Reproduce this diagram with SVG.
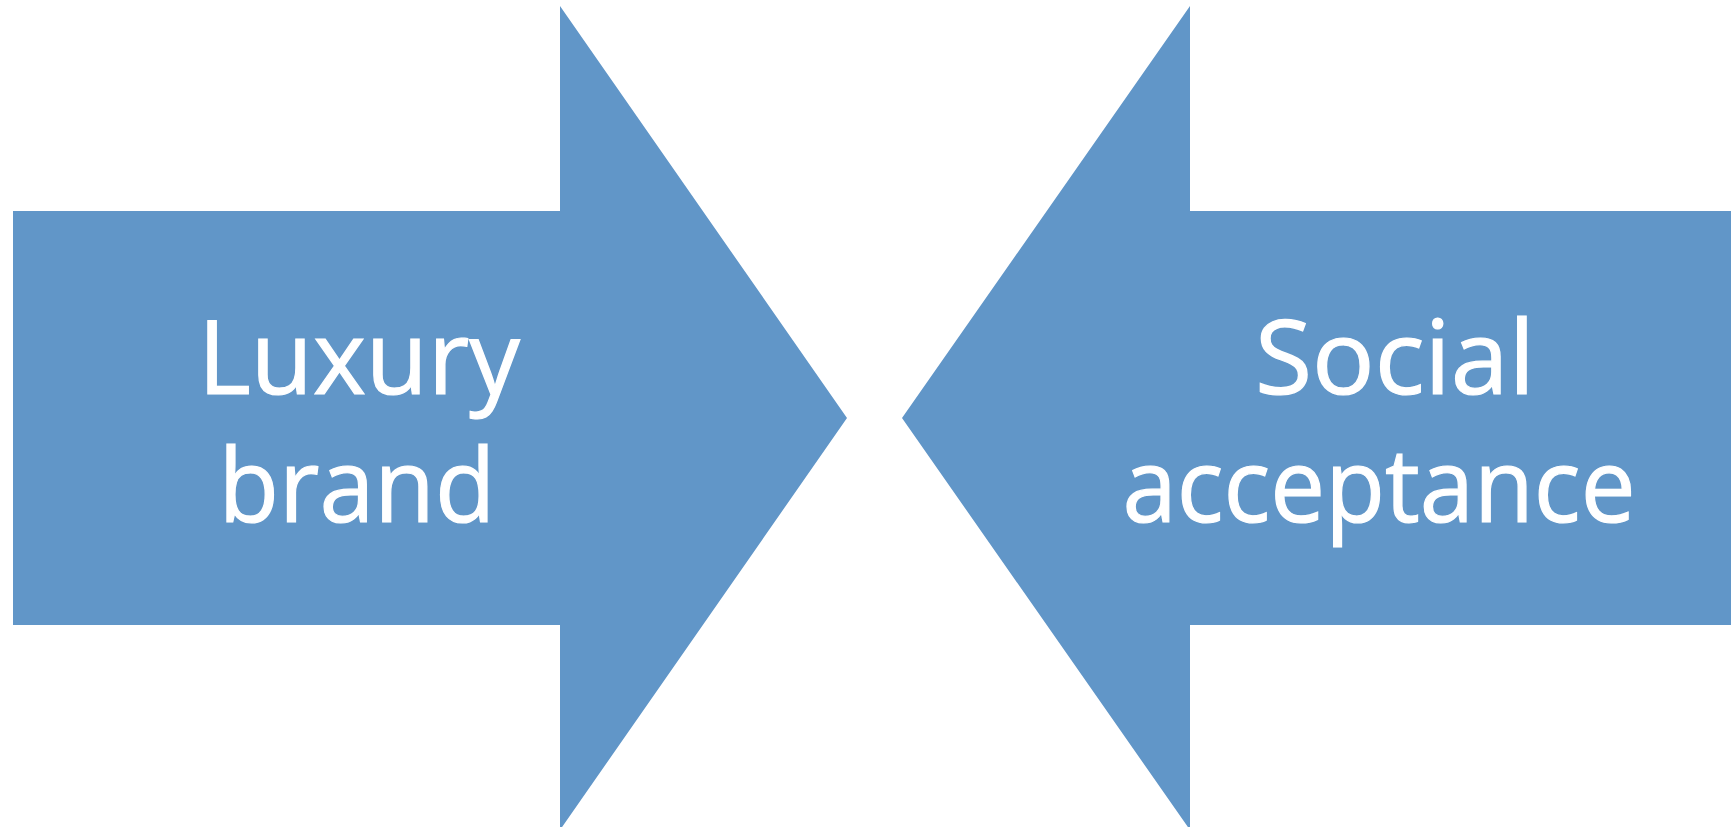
<svg xmlns="http://www.w3.org/2000/svg" width="1731" height="827" viewBox="0 0 1731 827">
  <style>
    .arrow { fill: #6196C8; }
    .label { fill: #FFFFFF; font-family: "Open Sans", "Lato", sans-serif; font-size: 103px; text-anchor: middle; stroke: #FFFFFF; stroke-width: 1.2px; }
  </style>
  <rect width="1731" height="827" fill="#FFFFFF"/>
  <g id="connectors"></g>
  <g id="luxury-brand">
    <polygon class="arrow" points="13,211 560,211 560,6 847,418 560,830 560,625 13,625"/>
    <text class="label" x="359" y="394" textLength="322" lengthAdjust="spacingAndGlyphs">Luxury</text>
    <text class="label" x="357" y="522" textLength="277" lengthAdjust="spacingAndGlyphs">brand</text>
  </g>
  <g id="social-acceptance">
    <polygon class="arrow" points="1731,211 1190,211 1190,6 902,418 1190,830 1190,625 1731,625"/>
    <text class="label" x="1395" y="394" textLength="280" lengthAdjust="spacingAndGlyphs">Social</text>
    <text class="label" x="1379" y="522" textLength="513" lengthAdjust="spacingAndGlyphs">acceptance</text>
  </g>
</svg>
